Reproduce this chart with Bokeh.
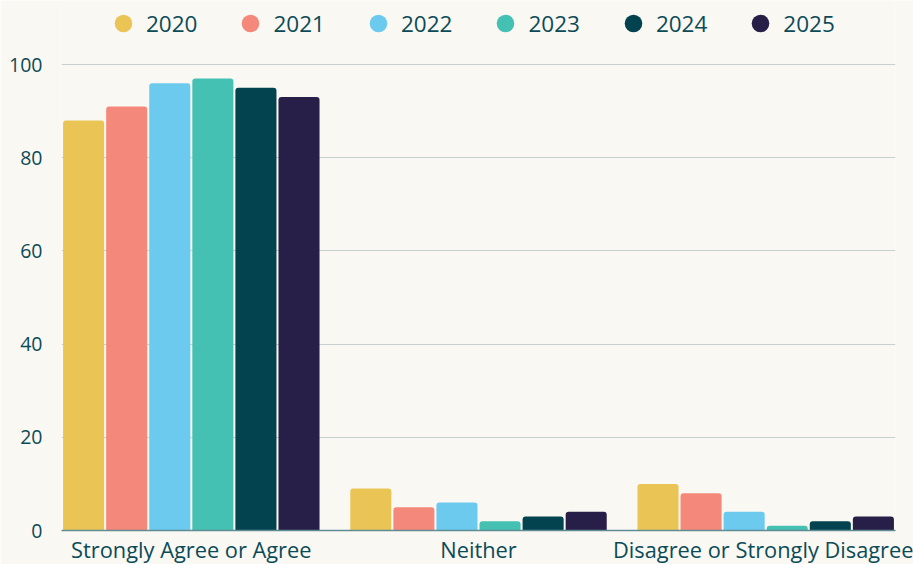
from bokeh.plotting import figure
from bokeh.models import ColumnDataSource, FactorRange, Legend, LegendItem
from bokeh.transform import dodge
from bokeh.embed import file_html
from bokeh.resources import INLINE

categories = ["Strongly Agree or Agree", "Neither", "Disagree or Strongly Disagree"]
years = ["2020", "2021", "2022", "2023", "2024", "2025"]
v2020 = [88, 9, 10]
v2021 = [91, 5, 8]
v2022 = [96, 6, 4]
v2023 = [97, 2, 1]
v2024 = [95, 3, 2]
v2025 = [93, 4, 3]
y_ticks = [0, 20, 40, 60, 80, 100]
colors = ["#EAC556", "#F4897B", "#6DCAEF", "#45C1B3", "#03434F", "#271F47"]

series = [v2020, v2021, v2022, v2023, v2024, v2025]
data = {"cat": categories}
for y, vals in zip(years, series):
    data["y" + y] = vals
source = ColumnDataSource(data)

BG = "#FAF8F3"
TXT = "#0B4B58"
FONT = "Open Sans"

# frame spans the full height above the axis; legend sits in the headroom above 100
p = figure(
    x_range=FactorRange(factors=categories, range_padding=-0.048, range_padding_units="absolute"),
    y_range=(0, 100 * 530 / 466),
    frame_width=834, frame_height=530,
    output_backend="svg", toolbar_location=None,
    background_fill_color=BG, border_fill_color=BG,
    min_border_left=61, min_border_right=18, min_border_top=0, min_border_bottom=34,
)
p.outline_line_color = None

offsets = [-0.375, -0.225, -0.075, 0.075, 0.225, 0.375]
items = []
for y, c, off in zip(years, colors, offsets):
    p.vbar(x=dodge("cat", off, range=p.x_range), top="y" + y, width=0.143,
           source=source, fill_color=c, line_color=None, border_radius=(3, 3, 0, 0))
    r = p.scatter(x=dodge("cat", off, range=p.x_range), y="y" + y, source=source,
                  size=0, marker="circle", fill_color=c, line_color=None)
    items.append(LegendItem(label=y, renderers=[r]))

legend = Legend(items=items, orientation="horizontal", location=(40, 485),
                glyph_width=44, glyph_height=44, label_standoff=1, spacing=31,
                label_text_font=FONT, label_text_font_size="22.5px", label_text_color=TXT,
                background_fill_alpha=0, border_line_color=None, padding=0, margin=0)
p.add_layout(legend)

p.xgrid.grid_line_color = None
p.ygrid.grid_line_color = "#C7D2D0"
p.ygrid.grid_line_width = 1

p.yaxis.ticker = y_ticks
p.yaxis.axis_line_color = None
p.yaxis.major_tick_line_color = None
p.yaxis.minor_tick_line_color = None
p.yaxis.major_tick_out = 0
p.yaxis.major_label_standoff = 19
p.yaxis.major_label_text_font = FONT
p.yaxis.major_label_text_font_size = "19.5px"
p.yaxis.major_label_text_color = TXT

p.xaxis.axis_line_color = "#5F8C92"
p.xaxis.axis_line_width = 1.5
p.xaxis.major_tick_line_color = None
p.xaxis.minor_tick_line_color = None
p.xaxis.major_tick_out = 0
p.xaxis.major_label_standoff = 4
p.xaxis.major_label_text_font = FONT
p.xaxis.major_label_text_font_size = "21.8px"
p.xaxis.major_label_text_color = TXT

open("out.html", "w").write(file_html(p, INLINE))
